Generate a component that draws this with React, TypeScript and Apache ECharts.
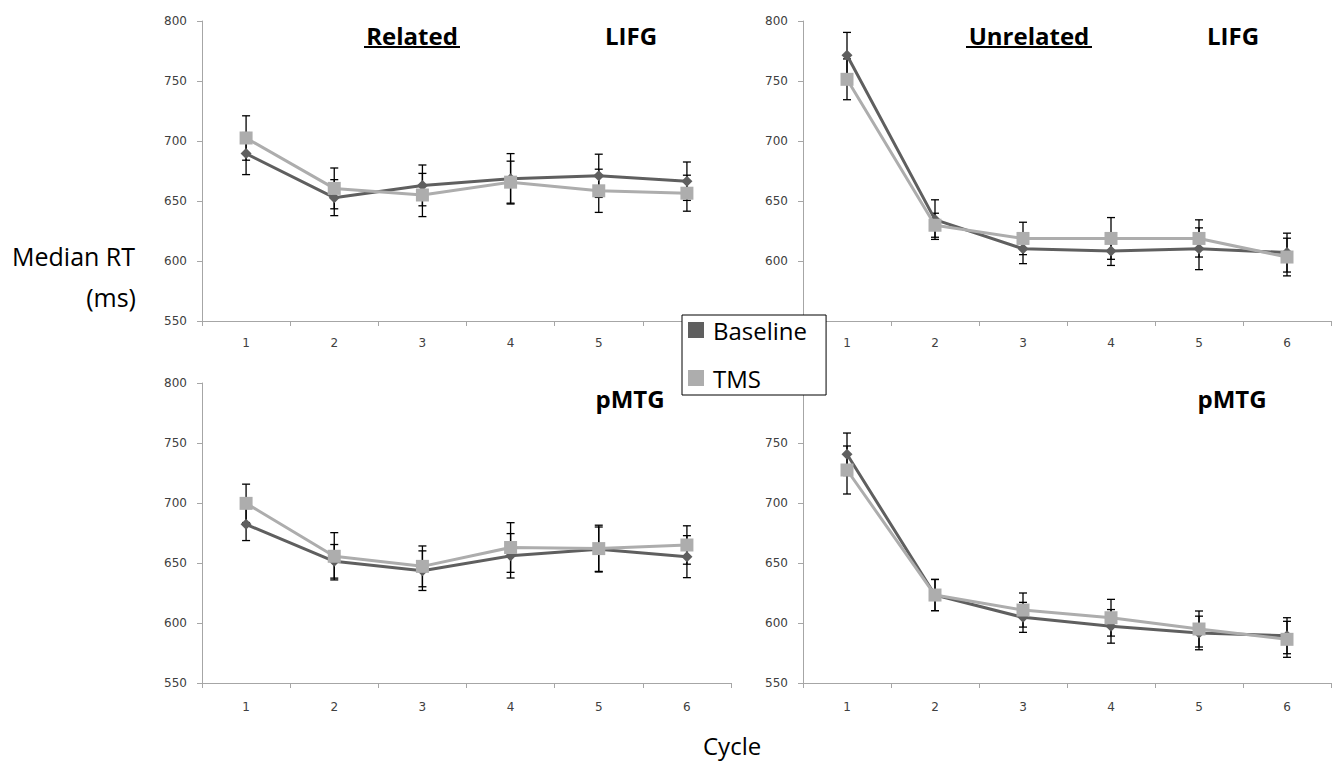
import React, { useEffect, useRef } from 'react';
import * as echarts from 'echarts';

const cycles = ['1', '2', '3', '4', '5', '6'];
const yTicks = { min: 550, max: 800, step: 50 };

// Related – LIFG
const relLifgBaseline = [689.5, 652.8, 663, 668.5, 671, 666.5];
const relLifgBaselineErr = [17.5, 15, 17, 21, 18, 16];
const relLifgTms = [702.5, 660.5, 655, 665.7, 658.5, 656.5];
const relLifgTmsErr = [18.5, 17, 18, 17.5, 18, 15];

// Unrelated – LIFG
const unrelLifgBaseline = [771.5, 634.5, 610.2, 608.3, 610.2, 607];
const unrelLifgBaselineErr = [19, 16.5, 12.4, 12, 17.4, 16.2];
const unrelLifgTms = [751.4, 629.8, 618.8, 618.8, 618.8, 603.3];
const unrelLifgTmsErr = [17, 10, 13.5, 17.4, 15.5, 15.7];

// Related – pMTG
const relPmtgBaseline = [682.2, 651.4, 643.6, 656, 661.5, 655.3];
const relPmtgBaselineErr = [13.5, 14, 16.5, 18.5, 18.5, 17.5];
const relPmtgTms = [699.7, 655.6, 647.2, 662.9, 662, 665];
const relPmtgTmsErr = [16, 19.7, 17, 20.7, 19.5, 16];

// Unrelated – pMTG
const unrelPmtgBaseline = [740.6, 623.3, 604.7, 597.2, 591.7, 589.4];
const unrelPmtgBaselineErr = [17.7, 13, 12.5, 14, 14, 15];
const unrelPmtgTms = [727.5, 623.3, 610.8, 604.4, 595, 586.4];
const unrelPmtgTmsErr = [20, 13, 14.2, 15.3, 15, 15];

// tick labels that the legend box covers in the original figure
// panel order: top-left, top-right, bottom-left, bottom-right
const hiddenX = [['6'], [], [], []];
const hiddenY = [[], [550], [], [800]];

const panels = [
  { b: relLifgBaseline, be: relLifgBaselineErr, t: relLifgTms, te: relLifgTmsErr, grid: { left: 202, top: 21, width: 529, height: 300 }, labelMargin: 16 },
  { b: unrelLifgBaseline, be: unrelLifgBaselineErr, t: unrelLifgTms, te: unrelLifgTmsErr, grid: { left: 803, top: 21, width: 528, height: 300 }, labelMargin: 16 },
  { b: relPmtgBaseline, be: relPmtgBaselineErr, t: relPmtgTms, te: relPmtgTmsErr, grid: { left: 202, top: 383, width: 529, height: 300 }, labelMargin: 18 },
  { b: unrelPmtgBaseline, be: unrelPmtgBaselineErr, t: unrelPmtgTms, te: unrelPmtgTmsErr, grid: { left: 803, top: 383, width: 528, height: 300 }, labelMargin: 18 },
];

const BASE_COLOR = '#5f5f5f';
const TMS_COLOR = '#adadad';
const AXIS_COLOR = '#a6a6a6';
const LABEL_FONT = 'DejaVu Sans';
const TITLE_FONT = 'Open Sans';

const errRender = (params: any, api: any) => {
  const x = api.value(0);
  const lo = api.coord([x, api.value(1)]);
  const hi = api.coord([x, api.value(2)]);
  const hw = 4;
  const style = { stroke: '#000', lineWidth: 1.3 };
  return {
    type: 'group',
    children: [
      { type: 'line', shape: { x1: lo[0], y1: hi[1], x2: lo[0], y2: lo[1] }, style },
      { type: 'line', shape: { x1: lo[0] - hw, y1: hi[1], x2: lo[0] + hw, y2: hi[1] }, style },
      { type: 'line', shape: { x1: lo[0] - hw, y1: lo[1], x2: lo[0] + hw, y2: lo[1] }, style },
    ],
  };
};

export default function App() {
  const ref = useRef<HTMLDivElement>(null);
  useEffect(() => {
    if (!ref.current) return;
    const chart = echarts.init(ref.current, undefined, { renderer: 'svg' });
    const series: any[] = [];
    panels.forEach((p, i) => {
      series.push({
        type: 'custom', name: 'Baseline error', xAxisIndex: i, yAxisIndex: i, z: 1,
        renderItem: errRender, encode: { x: 0, y: [1, 2] },
        data: p.b.map((v, j) => [j, v - p.be[j], v + p.be[j]]),
      });
      series.push({
        type: 'custom', name: 'TMS error', xAxisIndex: i, yAxisIndex: i, z: 1,
        renderItem: errRender, encode: { x: 0, y: [1, 2] },
        data: p.t.map((v, j) => [j, v - p.te[j], v + p.te[j]]),
      });
      series.push({
        type: 'line', name: 'Baseline', xAxisIndex: i, yAxisIndex: i, z: 3,
        data: p.b, symbol: 'diamond', symbolSize: 11,
        lineStyle: { color: BASE_COLOR, width: 3 }, itemStyle: { color: BASE_COLOR },
      });
      series.push({
        type: 'line', name: 'TMS', xAxisIndex: i, yAxisIndex: i, z: 4,
        data: p.t, symbol: 'rect', symbolSize: 13,
        lineStyle: { color: TMS_COLOR, width: 3 }, itemStyle: { color: TMS_COLOR },
      });
    });

    const text = (t: string, x: number, y: number, size: number, bold: boolean, align: string) => ({
      type: 'text', x, y, z: 10,
      style: {
        text: t, fontSize: size, fontWeight: bold ? 'bold' : 'normal', fontFamily: TITLE_FONT, fill: '#000',
        textAlign: align, align, textVerticalAlign: 'middle', verticalAlign: 'middle',
      },
    });

    chart.setOption({
      animation: false,
      backgroundColor: '#fff',
      grid: panels.map((p) => ({ ...p.grid, containLabel: false })),
      xAxis: panels.map((p, i) => ({
        type: 'category', gridIndex: i, data: cycles, boundaryGap: true,
        axisLine: { show: true, lineStyle: { color: AXIS_COLOR, width: 1 } },
        axisTick: { show: true, length: 5, lineStyle: { color: AXIS_COLOR } },
        axisLabel: {
          margin: p.labelMargin, fontSize: 12, fontFamily: LABEL_FONT, color: '#404040',
          formatter: (v: string) => (hiddenX[i].includes(v) ? '' : v),
        },
        splitLine: { show: false },
      })),
      yAxis: panels.map((p, i) => ({
        type: 'value', gridIndex: i, min: yTicks.min, max: yTicks.max, interval: yTicks.step,
        axisLine: { show: true, lineStyle: { color: AXIS_COLOR, width: 1 } },
        axisTick: { show: true, length: 5, lineStyle: { color: AXIS_COLOR } },
        axisLabel: {
          margin: 15, fontSize: 12, fontFamily: LABEL_FONT, color: '#404040',
          formatter: (v: number) => (hiddenY[i].includes(v) ? '' : String(v)),
        },
        splitLine: { show: false },
      })),
      legend: {
        data: ['Baseline', 'TMS'], orient: 'vertical', left: 682, top: 315,
        padding: [3, 19, 5, 6], itemWidth: 16, itemHeight: 16, itemGap: 24,
        icon: 'rect', selectedMode: false, z: 20,
        borderColor: '#000', borderWidth: 1, backgroundColor: '#fff',
        textStyle: { fontSize: 24, fontFamily: TITLE_FONT, color: '#000', padding: [0, 0, 0, 4] },
      },
      graphic: [
        text('Related', 412, 35, 24, true, 'center'),
        { type: 'line', z: 10, shape: { x1: 364, y1: 47, x2: 460, y2: 47 }, style: { stroke: '#000', lineWidth: 2 } },
        text('LIFG', 631, 35, 24, true, 'center'),
        text('Unrelated', 1029, 35, 24, true, 'center'),
        { type: 'line', z: 10, shape: { x1: 966, y1: 47, x2: 1092, y2: 47 }, style: { stroke: '#000', lineWidth: 2 } },
        text('LIFG', 1233, 35, 24, true, 'center'),
        text('pMTG', 630, 398, 24, true, 'center'),
        text('pMTG', 1232, 398, 24, true, 'center'),
        text('Median RT', 12, 256, 25, false, 'left'),
        text('(ms)', 136, 297, 25, false, 'right'),
        text('Cycle', 703, 745, 24, false, 'left'),
      ],
      series,
    });
    return () => chart.dispose();
  }, []);
  return (
    <div
      ref={ref}
      style={{ position: 'fixed', left: 0, top: 0, width: 1334, height: 765, background: '#fff' }}
    />
  );
}
